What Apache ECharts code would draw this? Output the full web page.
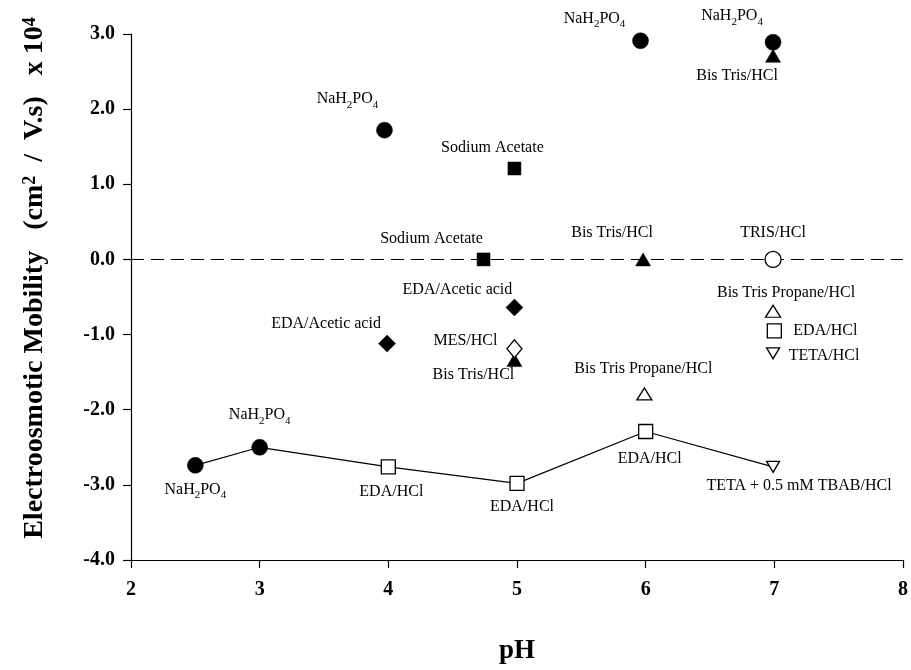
<!DOCTYPE html>
<html><head><meta charset="utf-8">
<script src="https://cdn.jsdelivr.net/npm/echarts@6/dist/echarts.min.js"></script>
<style>html,body{margin:0;padding:0;background:#fff}#c{width:911px;height:670px}</style>
</head><body><div id="c"></div>
<script>
// ---- data (pH, electroosmotic mobility x 10^4) ----
const xTicks = [2, 3, 4, 5, 6, 7, 8];
const yTicks = [-4, -3, -2, -1, 0, 1, 2, 3];

const filledCircle = [[2.5, -2.74], [3.0, -2.50], [3.97, 1.72], [5.96, 2.91], [6.99, 2.89]];
const filledCircleLabels = ['NaH2PO4', 'NaH2PO4', 'NaH2PO4', 'NaH2PO4', 'NaH2PO4'];

const openSquare = [[4.0, -2.76], [5.0, -2.98], [6.0, -2.29], [7.0, -0.95]];
const openSquareLabels = ['EDA/HCl', 'EDA/HCl', 'EDA/HCl', 'EDA/HCl'];

const filledSquare = [[4.98, 1.21], [4.74, 0.0]];
const filledSquareLabels = ['Sodium Acetate', 'Sodium Acetate'];

const filledTriangle = [[6.99, 2.71], [5.98, 0.0], [4.98, -1.34]];
const filledTriangleLabels = ['Bis Tris/HCl', 'Bis Tris/HCl', 'Bis Tris/HCl'];

const openTriangle = [[5.99, -1.79], [6.99, -0.69]];
const openTriangleLabels = ['Bis Tris Propane/HCl', 'Bis Tris Propane/HCl'];

const openTriangleDown = [[6.99, -2.76], [6.99, -1.25]];
const openTriangleDownLabels = ['TETA + 0.5 mM TBAB/HCl', 'TETA/HCl'];

const filledDiamond = [[4.98, -0.64], [3.99, -1.12]];
const filledDiamondLabels = ['EDA/Acetic acid', 'EDA/Acetic acid'];

const openDiamond = [[4.98, -1.19]];
const openDiamondLabels = ['MES/HCl'];

const openCircle = [[6.99, 0.0]];
const openCircleLabels = ['TRIS/HCl'];

// connected series (solid line)
const connectedLine = [[2.5, -2.74], [3.0, -2.50], [4.0, -2.76], [5.0, -2.98], [6.0, -2.29], [6.99, -2.76]];
// zero reference line
const zeroLine = [[2, 0], [8, 0]];

// ---- label placement (style, px offsets from marker centre) ----
const offsets = {
  filledCircle: [[0, 24], [0, -32], [-37, -31], [-46, -22], [-41, -26]],
  openSquare: [[3, 25], [5, 23], [4, 27], [51, 0]],
  filledSquare: [[-22, -21], [-52, -21]],
  filledTriangle: [[-36, 20], [-31, -27], [-41, 15]],
  openTriangle: [[-1, -25], [13, -18]],
  openTriangleDown: [[26, 19], [51, 2]],
  filledDiamond: [[-57, -18], [-61, -20]],
  openDiamond: [[-49, -8]],
  openCircle: [[0, -27]]
};

const FONT = '"Liberation Serif", "Times New Roman", serif';
const INK = '#000';

function fmtLabel(t) {
  if (t === 'NaH2PO4') return '{n|NaH}{s|2}{n|PO}{s|4}';
  return '{n|' + t + '}';
}
const rich = {
  n: { fontFamily: FONT, fontSize: 16, color: INK, lineHeight: 16 },
  s: { fontFamily: FONT, fontSize: 11, color: INK, lineHeight: 11, padding: [8, 0, 0, 0], verticalAlign: 'top' }
};

function build(points, labels, offs) {
  return points.map((p, i) => ({
    value: p,
    name: labels[i],
    label: { show: true, position: 'inside', offset: offs[i], formatter: fmtLabel(labels[i]), rich: rich }
  }));
}

function scatter(points, labels, offs, symbol, size, filled, rotate, z) {
  return {
    type: 'scatter',
    data: build(points, labels, offs),
    symbol: symbol,
    symbolSize: size,
    symbolRotate: rotate || 0,
    z: z || 3,
    itemStyle: filled
      ? { color: INK, borderColor: INK, borderWidth: 0.5, opacity: 1 }
      : { color: '#fff', borderColor: INK, borderWidth: 1.3, opacity: 1 },
    label: { show: true },
    emphasis: { disabled: true },
    silent: true
  };
}

const chart = echarts.init(document.getElementById('c'), null, { renderer: 'canvas' });
chart.setOption({
  animation: false,
  backgroundColor: '#fff',
  grid: { left: 131, right: 8, top: 34, bottom: 95, containLabel: false },
  xAxis: {
    type: 'value', min: xTicks[0], max: xTicks[xTicks.length - 1], interval: 1,
    name: 'pH', nameLocation: 'middle', nameGap: 78,
    nameTextStyle: { fontFamily: FONT, fontWeight: 'bold', fontSize: 27, color: INK },
    axisLine: { show: true, onZero: false, lineStyle: { color: INK, width: 1.2 } },
    axisTick: { show: true, inside: false, length: 8, lineStyle: { color: INK, width: 1.2 } },
    axisLabel: { margin: 20, fontFamily: FONT, fontWeight: 'bold', fontSize: 20, color: INK,
      customValues: xTicks },
    splitLine: { show: false }
  },
  yAxis: {
    type: 'value', min: yTicks[0], max: yTicks[yTicks.length - 1], interval: 1,
    axisLine: { show: true, onZero: false, lineStyle: { color: INK, width: 1.2 } },
    axisTick: { show: true, inside: false, length: 8, lineStyle: { color: INK, width: 1.2 } },
    axisLabel: { margin: 16, fontFamily: FONT, fontWeight: 'bold', fontSize: 20, color: INK,
      formatter: v => v.toFixed(1) },
    splitLine: { show: false }
  },
  graphic: [{
    type: 'text',
    x: 35, y: 278,
    rotation: Math.PI / 2,
    style: {
      text: '{t|Electroosmotic Mobility   (cm}{p|2}{t|  /  V.s)   x 10}{p|4}',
      align: 'center', verticalAlign: 'middle',
      rich: {
        t: { fontFamily: FONT, fontWeight: 'bold', fontSize: 28, fill: INK, lineHeight: 28 },
        p: { fontFamily: FONT, fontWeight: 'bold', fontSize: 18, fill: INK, lineHeight: 16, verticalAlign: 'top' }
      }
    }
  }],
  series: [
    { type: 'line', data: zeroLine, symbol: 'none', silent: true, z: 1,
      lineStyle: { color: INK, width: 1.1, type: [13, 7] } },
    { type: 'line', data: connectedLine, symbol: 'none', silent: true, z: 1,
      lineStyle: { color: INK, width: 1.2 } },
    scatter(filledCircle, filledCircleLabels, offsets.filledCircle, 'circle', 16, true, 0, 4),
    scatter(filledTriangle, filledTriangleLabels, offsets.filledTriangle, 'triangle', [15, 13], true, 0, 3),
    scatter(filledSquare, filledSquareLabels, offsets.filledSquare, 'rect', 13, true),
    scatter(filledDiamond, filledDiamondLabels, offsets.filledDiamond, 'diamond', 17, true),
    scatter(openSquare, openSquareLabels, offsets.openSquare, 'rect', 14, false),
    scatter(openTriangle, openTriangleLabels, offsets.openTriangle, 'triangle', [15, 12], false),
    scatter(openTriangleDown, openTriangleDownLabels, offsets.openTriangleDown, 'triangle', [13, 11], false, 180),
    scatter(openDiamond, openDiamondLabels, offsets.openDiamond, 'diamond', [15, 18], false, 0, 5),
    scatter(openCircle, openCircleLabels, offsets.openCircle, 'circle', 16, false, 0, 5)
  ]
});
</script></body></html>
